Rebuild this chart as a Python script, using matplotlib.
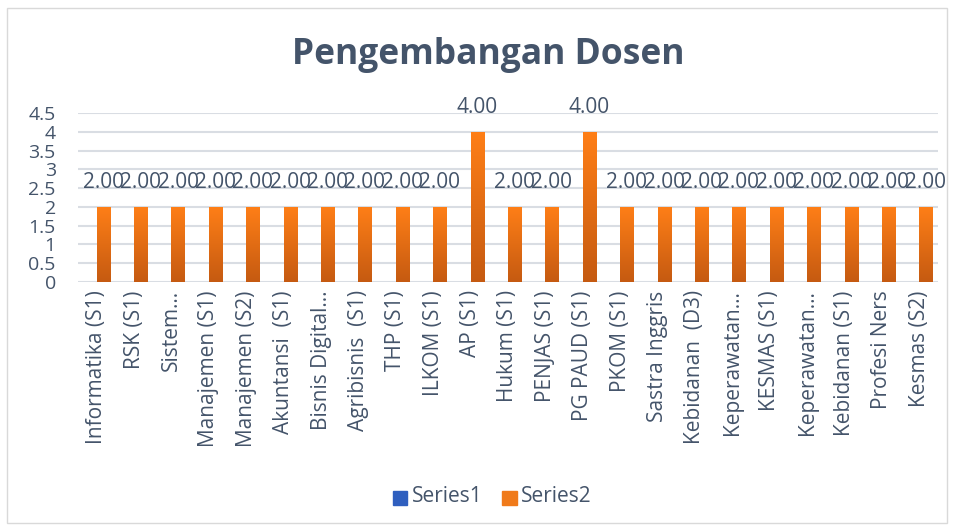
import matplotlib
matplotlib.use("Agg")
import matplotlib.pyplot as plt
import numpy as np
from matplotlib.patches import Rectangle
from matplotlib.colors import LinearSegmentedColormap

categories = ["Informatika (S1)", "RSK (S1)", "Sistem…", "Manajemen (S1)", "Manajemen (S2)",
              "Akuntansi  (S1)", "Bisnis Digital…", "Agribisnis  (S1)", "THP (S1)", "ILKOM (S1)",
              "AP (S1)", "Hukum (S1)", "PENJAS (S1)", "PG PAUD (S1)", "PKOM (S1)", "Sastra Inggris",
              "Kebidanan  (D3)", "Keperawatan…", "KESMAS (S1)", "Keperawatan…", "Kebidanan (S1)",
              "Profesi Ners", "Kesmas (S2)"]
series1 = [0] * 23
series2 = [2, 2, 2, 2, 2, 2, 2, 2, 2, 2, 4, 2, 2, 4, 2, 2, 2, 2, 2, 2, 2, 2, 2]
yticks = [0, 0.5, 1, 1.5, 2, 2.5, 3, 3.5, 4, 4.5]

TXT = "#44546A"
plt.rcParams['font.family'] = ['Open Sans', 'DejaVu Sans']

W, H = 955, 531
fig = plt.figure(figsize=(W / 100, H / 100), dpi=100)
ax = fig.add_axes([78 / W, 1 - 282 / H, (938 - 78) / W, (282 - 113) / H])

x = np.arange(len(categories))
bw = 0.35
b1 = ax.bar(x - bw / 2, series1, bw, color="#2F5FBF", zorder=3)
b2 = ax.bar(x + bw / 2, series2, bw, color="#F07A1A", zorder=3)

grad = np.linspace(0, 1, 256).reshape(-1, 1)
cmap = LinearSegmentedColormap.from_list("og", ["#C55A11", "#FF7F17"])
for r in b2:
    xx, yy = r.get_x(), r.get_y()
    w, h = r.get_width(), r.get_height()
    im = ax.imshow(grad, extent=[xx, xx + w, yy, yy + h], origin="lower",
                   cmap=cmap, aspect="auto", zorder=3.5)
    im.set_clip_path(r)

for xi, v in zip(x, series2):
    ax.text(xi + bw / 2, v + 0.64, f"{v:.2f}", ha="center", va="center",
            fontsize=15, color=TXT, zorder=5)

ax.set_xlim(-0.5, len(categories) - 0.5)
ax.set_ylim(0, 4.5)
ax.set_yticks(yticks)
ax.set_yticklabels([f"{t:g}" for t in yticks], fontsize=14, color=TXT)
ax.set_xticks(x)
ax.set_xticklabels(categories, rotation=90, fontsize=15, color=TXT)
ax.tick_params(axis="both", length=0)
ax.tick_params(axis="y", pad=16)
ax.tick_params(axis="x", pad=6)
ax.grid(axis="y", color="#D9DDE3", linewidth=1.5, zorder=0)
for s in ax.spines.values():
    s.set_visible(False)
ax.set_facecolor("none")

fig.text(488 / W, 1 - 55 / H, "Pengembangan Dosen", ha="center", va="center",
         fontsize=25.5, fontweight="bold", color=TXT)

fig.patches.append(Rectangle((393 / W, 1 - 505 / H), 14 / W, 14 / H,
                             transform=fig.transFigure, color="#2F5FBF"))
fig.text(412 / W, 1 - 497 / H, "Series1", va="center", fontsize=15, color=TXT)
fig.patches.append(Rectangle((502 / W, 1 - 505 / H), 15 / W, 14 / H,
                             transform=fig.transFigure, color="#F07A1A"))
fig.text(521 / W, 1 - 497 / H, "Series2", va="center", fontsize=15, color=TXT)

fig.patches.append(Rectangle((7 / W, 8 / H), (947 - 7) / W, (523 - 8) / H,
                             transform=fig.transFigure, fill=False,
                             edgecolor="#D9D9D9", linewidth=1))

fig.savefig("out.png", dpi=100)
